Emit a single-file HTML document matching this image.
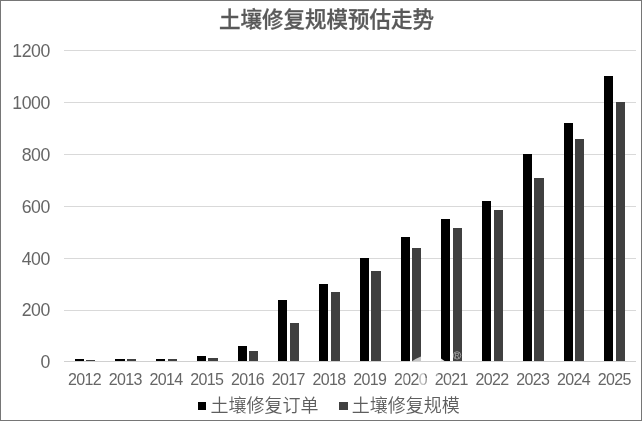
<!DOCTYPE html>
<html lang="zh"><head><meta charset="utf-8"><title>土壤修复规模预估走势</title>
<style>
html,body{margin:0;padding:0;background:#fff;}
body{width:642px;height:421px;overflow:hidden;position:relative;font-family:"Liberation Sans","Noto Sans CJK SC",sans-serif;color:#5e5e5e;}
#frame{position:absolute;left:0;top:0;width:640px;height:419px;border:1px solid #767676;}
#title{position:absolute;left:219.1px;top:4px;width:214px;height:32px;line-height:32px;font-size:21.5px;font-weight:500;-webkit-text-stroke:0.3px #595959;white-space:nowrap;color:#595959;font-family:"Liberation Sans","Noto Sans CJK SC",sans-serif;}
svg{position:absolute;left:0;top:0;}
.yl,.xl{color:#666;}
.yl{position:absolute;left:0;width:50px;height:22px;line-height:22px;text-align:right;font-size:17.7px;letter-spacing:-0.4px;}
.xl{position:absolute;top:370px;width:50px;height:20px;line-height:20px;text-align:center;font-size:16px;letter-spacing:-0.65px;}
.lg{position:absolute;top:394px;height:24px;line-height:24px;font-size:18px;font-weight:350;white-space:nowrap;font-family:"Liberation Sans","Noto Sans CJK SC",sans-serif;}
.mk{position:absolute;top:402px;width:8px;height:8px;}
</style></head><body>
<div id="frame"></div>
<div id="title">土壤修复规模预估走势</div>
<svg width="642" height="421" viewBox="0 0 642 421" shape-rendering="crispEdges">
<rect x="64" y="50" width="571.5" height="1" fill="#d9d9d9"/><rect x="64" y="102" width="571.5" height="1" fill="#d9d9d9"/><rect x="64" y="154" width="571.5" height="1" fill="#d9d9d9"/><rect x="64" y="206" width="571.5" height="1" fill="#d9d9d9"/><rect x="64" y="258" width="571.5" height="1" fill="#d9d9d9"/><rect x="64" y="310" width="571.5" height="1" fill="#d9d9d9"/>
<rect x="75" y="359.00" width="9.00" height="2.00" fill="#000"/><rect x="86" y="360.00" width="9.00" height="1.00" fill="#404040"/><rect x="115" y="359.00" width="10.00" height="2.00" fill="#000"/><rect x="127" y="359.00" width="9.00" height="2.00" fill="#404040"/><rect x="156" y="359.00" width="9.00" height="2.00" fill="#000"/><rect x="168" y="359.00" width="9.00" height="2.00" fill="#404040"/><rect x="197" y="356.00" width="9.00" height="5.00" fill="#000"/><rect x="208" y="358.00" width="10.00" height="3.00" fill="#404040"/><rect x="238" y="346.00" width="9.00" height="15.00" fill="#000"/><rect x="249" y="351.00" width="9.00" height="10.00" fill="#404040"/><rect x="278" y="300.00" width="9.00" height="61.00" fill="#000"/><rect x="290" y="323.00" width="9.00" height="38.00" fill="#404040"/><rect x="319" y="284.00" width="9.00" height="77.00" fill="#000"/><rect x="331" y="292.00" width="9.00" height="69.00" fill="#404040"/><rect x="360" y="258.00" width="9.00" height="103.00" fill="#000"/><rect x="371" y="271.00" width="10.00" height="90.00" fill="#404040"/><rect x="401" y="237.00" width="9.00" height="124.00" fill="#000"/><rect x="412" y="248.00" width="9.00" height="113.00" fill="#404040"/><rect x="441" y="219.00" width="9.00" height="142.00" fill="#000"/><rect x="453" y="228.00" width="9.00" height="133.00" fill="#404040"/><rect x="482" y="201.00" width="9.00" height="160.00" fill="#000"/><rect x="494" y="210.00" width="9.00" height="151.00" fill="#404040"/><rect x="523" y="154.00" width="9.00" height="207.00" fill="#000"/><rect x="534" y="178.00" width="10.00" height="183.00" fill="#404040"/><rect x="564" y="123.00" width="9.00" height="238.00" fill="#000"/><rect x="575" y="139.00" width="9.00" height="222.00" fill="#404040"/><rect x="604" y="76.00" width="9.00" height="285.00" fill="#000"/><rect x="616" y="102.00" width="9.00" height="259.00" fill="#404040"/>
<rect x="64" y="361" width="571.5" height="1" fill="#d0d0d0"/>
<polygon points="412.3,361 416,358.7 421,356.6 421,361" fill="#c6c6c6" shape-rendering="auto"/>
<polygon points="441,358.6 441,361 444.6,361" fill="#e8e8e8" shape-rendering="auto"/>
<rect x="410" y="361" width="2" height="1" fill="#f4f4f4"/>
<g shape-rendering="auto"><circle cx="457.1" cy="355.4" r="3.7" fill="none" stroke="#b8b8b8" stroke-width="0.75"/><text x="457" y="357.7" font-family="Liberation Sans, sans-serif" font-size="6.4" fill="#b8b8b8" text-anchor="middle">R</text></g>
</svg>
<svg width="642" height="421" viewBox="0 0 642 421" style="z-index:5">
<rect x="419.3" y="372" width="5.2" height="15" fill="#fff" opacity="0.6"/>
<rect x="424.5" y="378" width="3.5" height="9" fill="#fff" opacity="0.4"/>
<rect x="401.6" y="374" width="2.4" height="10" fill="#fff" opacity="0.4"/>
<rect x="435" y="372" width="3.2" height="6" fill="#fff" opacity="0.4"/>
<rect x="449" y="379" width="3" height="7" fill="#fff" opacity="0.3"/>
</svg>
<div class="yl" style="top:39.8px">1200</div><div class="yl" style="top:91.8px">1000</div><div class="yl" style="top:143.8px">800</div><div class="yl" style="top:195.8px">600</div><div class="yl" style="top:247.8px">400</div><div class="yl" style="top:298.8px">200</div><div class="yl" style="top:350.8px">0</div>
<div class="xl" style="left:59.40px">2012</div><div class="xl" style="left:100.15px">2013</div><div class="xl" style="left:140.90px">2014</div><div class="xl" style="left:181.65px">2015</div><div class="xl" style="left:222.40px">2016</div><div class="xl" style="left:263.15px">2017</div><div class="xl" style="left:303.90px">2018</div><div class="xl" style="left:344.65px">2019</div><div class="xl" style="left:385.40px">2020</div><div class="xl" style="left:426.15px">2021</div><div class="xl" style="left:466.90px">2022</div><div class="xl" style="left:507.65px">2023</div><div class="xl" style="left:548.40px">2024</div><div class="xl" style="left:589.15px">2025</div>
<div class="mk" style="left:198px;background:#000"></div><div class="lg" style="left:210.5px">土壤修复订单</div>
<div class="mk" style="left:339px;width:9px;background:#404040"></div><div class="lg" style="left:351.7px">土壤修复规模</div>
</body></html>
